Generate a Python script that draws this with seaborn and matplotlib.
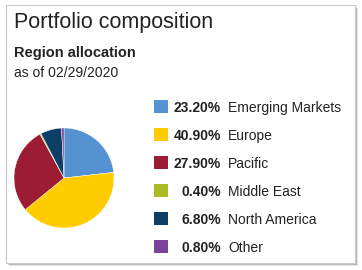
import matplotlib
matplotlib.use("Agg")
import matplotlib.pyplot as plt
from matplotlib.patches import Rectangle
import seaborn as sns

categories = ["Emerging Markets", "Europe", "Pacific", "Middle East", "North America", "Other"]
values = [23.20, 40.90, 27.90, 0.40, 6.80, 0.80]
colors = ["#5592d2", "#ffcc00", "#9b1c33", "#a9ba22", "#0d3f66", "#7a449c"]
title = "Portfolio composition"
subtitle = "Region allocation"
date_text = "as of 02/29/2020"

sns.set_theme(style="white")
plt.rcParams['font.family'] = ['Liberation Sans', 'DejaVu Sans']

W, H = 362, 270
fig = plt.figure(figsize=(W / 100, H / 100), dpi=100)
fig.patch.set_facecolor("white")

def fx(x):
    return x / W

def fy(y):
    return 1 - y / H

# card shadow and border
for i, a in enumerate([0.10, 0.18, 0.28]):
    off = 3 - i
    fig.patches.append(Rectangle((fx(6 + off), fy(263 + off)), fx(349), 258 / H,
                                 transform=fig.transFigure, facecolor=(0, 0, 0, a),
                                 edgecolor="none", zorder=0))
fig.patches.append(Rectangle((fx(6), fy(263)), fx(349), 258 / H, transform=fig.transFigure,
                             facecolor="white", edgecolor="#c8c8c8", linewidth=0.8, zorder=1))

fig.text(fx(14), fy(28), title, fontsize=15.5, color="#222222", va="baseline", ha="left", zorder=3)
fig.text(fx(14), fy(57), subtitle, fontsize=10.5, fontweight="bold", color="#222222",
         va="baseline", ha="left", zorder=3)
fig.text(fx(14), fy(77.5), date_text, fontsize=10, color="#222222", va="baseline", ha="left", zorder=3)

# pie
ax = fig.add_axes([fx(14), fy(228), 100 / W, 100 / H])
ax.pie(values, colors=colors, startangle=90, counterclock=False,
       wedgeprops=dict(linewidth=0.3, edgecolor="white"))
ax.set_xlim(-1, 1)
ax.set_ylim(-1, 1)
ax.set_aspect("equal")
ax.set_zorder(3)
ax.axis("off")

# legend
y0 = 106
for i, (cat, val, col) in enumerate(zip(categories, values, colors)):
    yc = y0 + 28 * i
    fig.patches.append(Rectangle((fx(154), fy(yc + 6.5)), 13.5 / W, 13 / H,
                                 transform=fig.transFigure, facecolor=col, edgecolor="none", zorder=3))
    fig.text(fx(221), fy(yc + 6), f"{val:.2f}%", fontsize=10, fontweight="bold", color="#222222",
             ha="right", va="baseline", zorder=3)
    fig.text(fx(228), fy(yc + 6), cat, fontsize=10, color="#222222", ha="left", va="baseline", zorder=3)

fig.savefig("out.png", dpi=100)
